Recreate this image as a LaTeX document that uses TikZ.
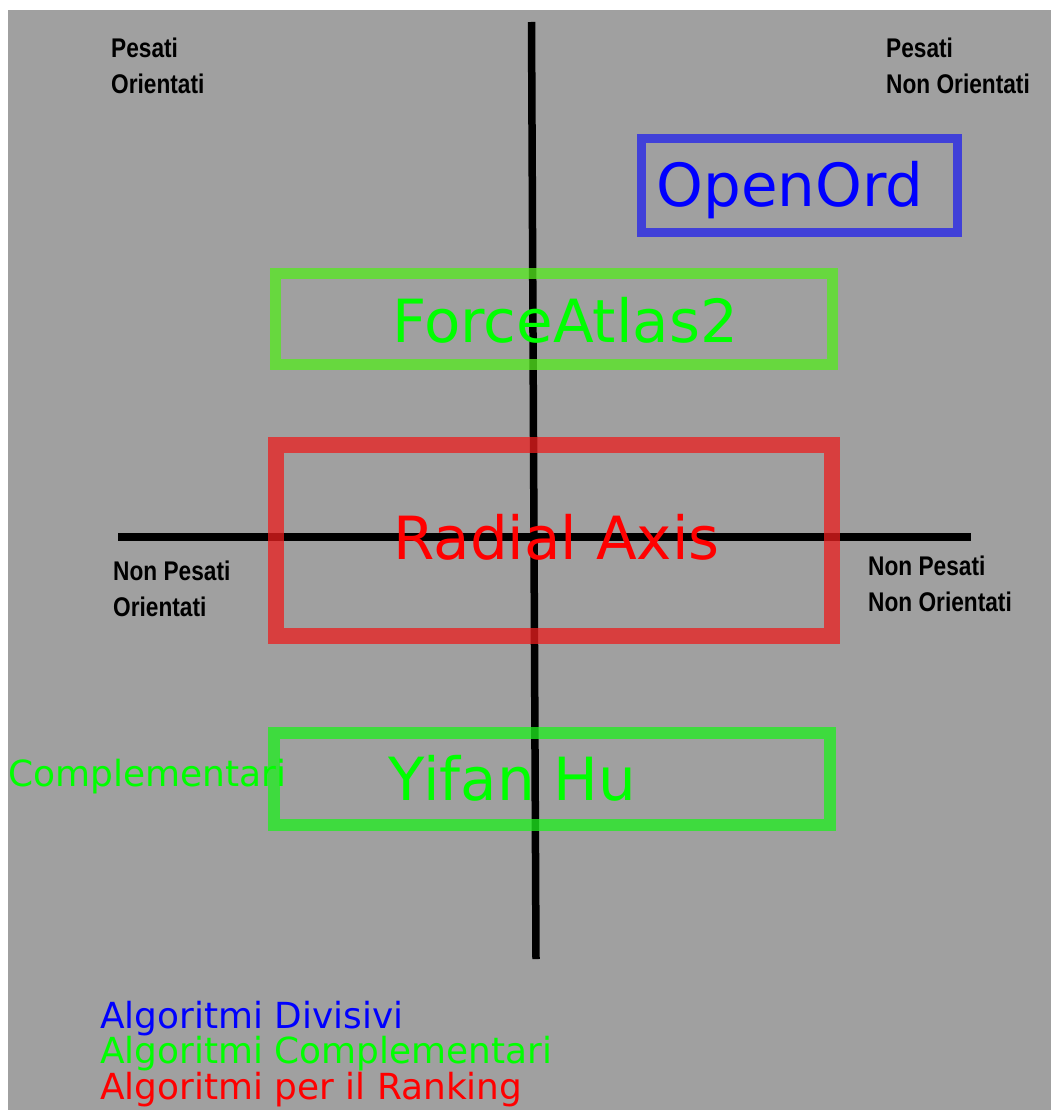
\documentclass[tikz,border=0pt]{standalone}
\usepackage{fontspec}
\setmainfont{DejaVu Sans}
\newfontfamily\quadfont[FakeStretch=0.84]{Liberation Sans}
\usepackage{tikz}
\usetikzlibrary{matrix}
\definecolor{bggray}{RGB}{160,160,160}
\definecolor{boxblue}{RGB}{32,32,235}
\definecolor{boxgreenA}{RGB}{85,235,30}
\definecolor{boxgreenB}{RGB}{30,240,30}
\definecolor{boxred}{RGB}{235,30,30}
\definecolor{txtblue}{RGB}{0,0,255}
\definecolor{txtgreen}{RGB}{0,255,0}
\definecolor{txtred}{RGB}{255,0,0}
\begin{document}
\begin{tikzpicture}[x=1pt, y=-1pt,
axisline/.style={draw=black, line width=7.5pt},
algbox/.style={draw, draw opacity=0.75, inner sep=0pt},
algname/.style={anchor=base, inner sep=0pt, font=\fontsize{59.5}{70}\selectfont},
quad/.style={align=left, anchor=base west, inner sep=0pt, font=\quadfont\bfseries\fontsize{27}{36}\selectfont},
legend/.style={matrix of nodes, inner sep=0pt, row sep=0pt,
nodes={anchor=base west, inner sep=0pt, text height=27pt, text depth=8.7pt, font=\fontsize{35.9}{43}\selectfont},
row 1/.style={nodes={text=txtblue}}, row 2/.style={nodes={text=txtgreen}}, row 3/.style={nodes={text=txtred}}}]
\useasboundingbox (0,0) rectangle (1051,1110);
\fill[bggray] (8,10) rectangle (1051,1110);
% axes
\coordinate (vtop) at (531.5,22);
\coordinate (vbot) at (536,959);
\coordinate (hleft) at (118,537);
\coordinate (hright) at (970.5,537);
\draw[axisline] (vtop) -- (vbot);
\draw[axisline] (hleft) -- (hright);
% quadrants
\node[quad] (wo) at (111,93.3) {Pesati\\Orientati};
\node[quad] (wu) at (886,93.3) {Pesati\\Non Orientati};
\node[quad] (uo) at (113,616.7) {Non Pesati\\Orientati};
\node[quad] (uu) at (868,611.7) {Non Pesati\\Non Orientati};
% boxes
\node[algbox, draw=boxblue, line width=9pt, minimum width=316pt, minimum height=94pt] (openord) at (799.5,185.5) {};
\node[algbox, draw=boxgreenA, line width=11pt, minimum width=557pt, minimum height=91pt] (forceatlas) at (554,319) {};
\node[algbox, draw=boxred, line width=16pt, minimum width=556pt, minimum height=191pt] (radial) at (554,540.5) {};
\node[algbox, draw=boxgreenB, line width=12pt, minimum width=556pt, minimum height=92pt] (yifan) at (552,779) {};
\node[algname, text=txtblue] (openordlbl) at (790,207) {OpenOrd};
\node[algname, text=txtgreen] (forceatlaslbl) at (565,342) {ForceAtlas2};
\node[algname, text=txtred] (radiallbl) at (556.5,559) {Radial Axis};
\node[algname, text=txtgreen] (yifanlbl) at (512.5,800) {Yifan Hu};
\node[anchor=base west, inner sep=0pt, text=txtgreen, font=\fontsize{36}{43}\selectfont] (compl) at (8,786) {Complementari};
% legend
\matrix[legend, matrix anchor=north west] (key) at (100,1001) {
Algoritmi Divisivi\\
Algoritmi Complementari\\
Algoritmi per il Ranking\\};
\end{tikzpicture}
\end{document}
